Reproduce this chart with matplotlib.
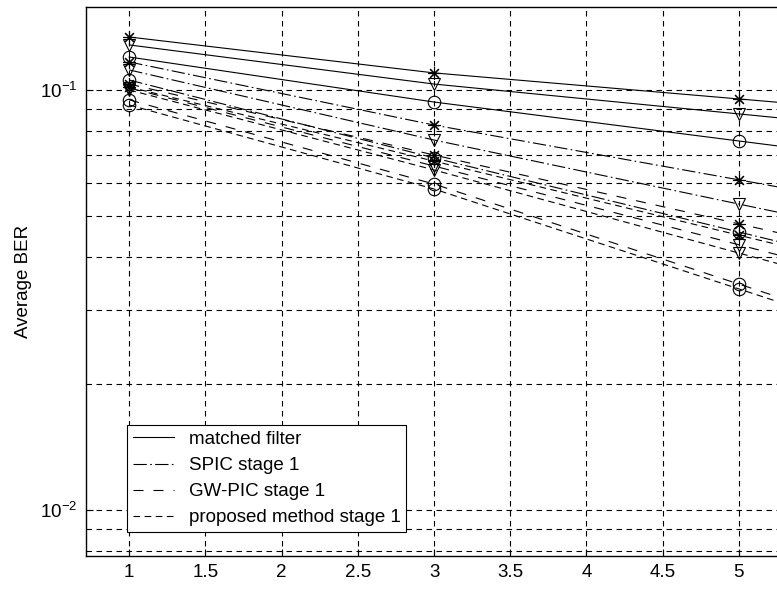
import matplotlib
matplotlib.use("Agg")
import matplotlib.pyplot as plt
from matplotlib.ticker import LogLocator, LogFormatterSciNotation, NullFormatter

plt.rcParams['font.family'] = ['Liberation Sans', 'DejaVu Sans']
plt.rcParams['mathtext.fontset'] = 'custom'
plt.rcParams['mathtext.rm'] = 'Liberation Sans'

# number of users (x) and average BER; x=7 is off the crop, estimated
users = [1, 3, 5, 7]

methods = ['matched filter', 'SPIC stage 1', 'GW-PIC stage 1', 'proposed method stage 1']
xticks = [1, 1.5, 2, 2.5, 3, 3.5, 4, 4.5, 5]
xtick_labels = ['1', '1.5', '2', '2.5', '3', '3.5', '4', '4.5', '5']

# one list per case (marker *, v, o) for each method
mf_star = [0.1337, 0.1098, 0.0952, 0.0825]
mf_tri = [0.1280, 0.1033, 0.0877, 0.0744]
mf_circ = [0.1198, 0.0936, 0.0756, 0.0611]

spic_star = [0.1166, 0.0825, 0.0611, 0.0451]
spic_tri = [0.1116, 0.0760, 0.0535, 0.0377]
spic_circ = [0.1056, 0.0689, 0.0459, 0.0306]

gw_star = [0.1033, 0.0700, 0.0480, 0.0329]
gw_tri = [0.1011, 0.0659, 0.0428, 0.0277]
gw_circ = [0.0947, 0.0597, 0.0345, 0.0199]

prop_star = [0.1016, 0.0677, 0.0451, 0.0301]
prop_tri = [0.1000, 0.0645, 0.0409, 0.0260]
prop_circ = [0.0921, 0.0581, 0.0336, 0.0194]

series = [
    (methods[0], '-', [mf_star, mf_tri, mf_circ]),
    (methods[1], (0, (12, 3, 1.5, 3)), [spic_star, spic_tri, spic_circ]),
    (methods[2], (0, (9, 9)), [gw_star, gw_tri, gw_circ]),
    (methods[3], (0, (6, 4)), [prop_star, prop_tri, prop_circ]),
]
markers = [(8, 2, 0), 'v', 'o']

fig = plt.figure(figsize=(7.77, 5.9), dpi=100)
ax = fig.add_axes([86 / 777, 34 / 590, 691 / 777, 549 / 590])

# lines first so the legend picks one per method
for name, ls, cases in series:
    ax.plot(users, cases[0], color='black', linestyle=ls, linewidth=0.8, label=name)
for name, ls, cases in series:
    for vals, mk in zip(cases, markers):
        ax.plot(users, vals, color='black', linestyle='none', marker=mk,
                markersize=9, markerfacecolor='none', markeredgewidth=0.8)
for name, ls, cases in series:
    for vals in cases[1:]:
        ax.plot(users, vals, color='black', linestyle=ls, linewidth=0.8)

ax.set_yscale('log')
ax.set_xlim(0.716, 5.25)
ax.set_ylim(0.00777, 0.1576)
ax.set_xticks(xticks)
ax.set_xticklabels(xtick_labels)
ax.yaxis.set_major_locator(LogLocator(base=10))
ax.yaxis.set_major_formatter(LogFormatterSciNotation())
ax.yaxis.set_minor_locator(LogLocator(base=10, subs=range(2, 10)))
ax.yaxis.set_minor_formatter(NullFormatter())

ax.grid(True, which='major', axis='x', color='black', linestyle=(0, (5, 4)), linewidth=0.8)
ax.grid(True, which='both', axis='y', color='black', linestyle=(0, (5, 4)), linewidth=0.8)

ax.tick_params(axis='both', which='both', direction='in', labelsize=13.5, top=False, right=False)
ax.tick_params(axis='both', which='major', length=5, pad=6)
ax.tick_params(axis='y', which='minor', length=3)
ax.spines['right'].set_visible(False)
for s in ['left', 'top', 'bottom']:
    ax.spines[s].set_linewidth(1.0)

ax.set_ylabel('Average BER', fontsize=13.5, labelpad=6)

leg = ax.legend(loc='lower left', bbox_to_anchor=(0.0593, 0.0437), borderaxespad=0,
                fontsize=13.5, frameon=True, fancybox=False, edgecolor='black',
                framealpha=1, handlelength=2.2, labelspacing=0.48, borderpad=0.3,
                handletextpad=0.8)
leg.get_frame().set_linewidth(0.8)

fig.savefig('out.png', dpi=100)
